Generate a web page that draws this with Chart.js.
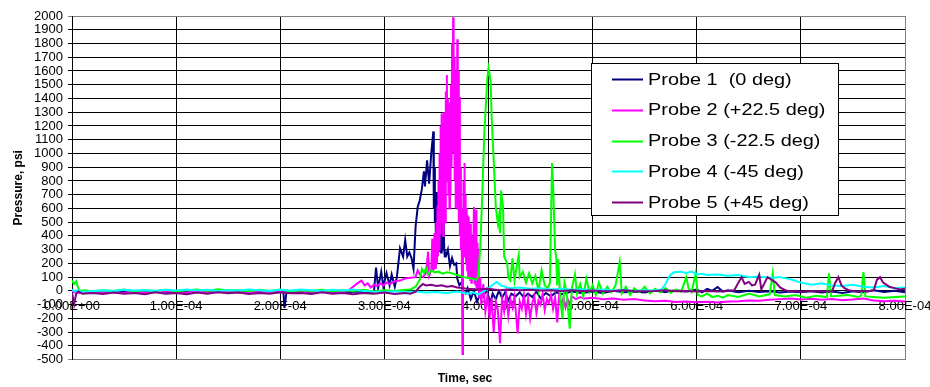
<!DOCTYPE html>
<html>
<head>
<meta charset="utf-8">
<script src="https://cdn.jsdelivr.net/npm/chart.js@4.4.1/dist/chart.umd.min.js"></script>
<style>
  html, body { margin: 0; padding: 0; background: #fff; }
  canvas { display: block; }
</style>
</head>
<body>
<canvas id="grafico" width="930" height="387"></canvas>
<script>
// time in microseconds, pressure in psi
const probe1 = [[0,0],[3,-10],[8,-5],[15,-8],[25,-3],[35,-10],[45,-5],[55,-12],[65,-4],[75,-8],[85,-2],[95,-10],[105,-6],[115,-12],[125,-3],[135,-8],[145,-5],[155,-10],[165,-4],[175,-9],[185,-3],[195,-7],[203,-5],[204,-125],[206,-10],[215,-5],[225,-8],[235,-3],[245,-10],[255,-5],[265,-8],[275,-4],[285,-10],[290,-5],[292,170],[294,20],[297,140],[299,30],[302,130],[305,40],[307,120],[310,30],[312,100],[315,310],[318,250],[320,370],[322,250],[324,280],[326,240],[328,160],[330,470],[332,610],[334,660],[336,740],[338,870],[339,760],[341,950],[343,780],[345,1000],[347,1160],[347.5,600],[348,900],[348.5,500],[349,700],[349.5,350],[350,720],[350.5,330],[351,700],[351.5,300],[352,650],[352.5,290],[353,620],[353.5,300],[354,600],[354.5,280],[355,580],[355.5,350],[356,550],[356.5,300],[357,500],[357.5,300],[358,250],[359,250],[361,300],[363,180],[365,240],[367,190],[369,200],[370,90],[372,40],[374,60],[376,-10],[378,-20],[380,20],[383,-60],[386,0],[389,-80],[392,-20],[395,-40],[398,10],[400,-40],[402,-90],[404,-20],[407,-60],[410,0],[413,-50],[416,-10],[419,-70],[422,-20],[426,-40],[430,-10],[434,-50],[438,-20],[442,-45],[446,-5],[450,-55],[455,-15],[460,-40],[465,-10],[470,-25],[480,-5],[490,-15],[500,-5],[510,-15],[520,0],[530,-10],[540,-5],[550,-12],[560,0],[570,-8],[580,5],[590,-5],[600,10],[605,-10],[610,15],[615,0],[620,28],[625,-5],[630,5],[640,-10],[650,0],[660,-8],[670,-3],[680,-12],[690,-5],[700,-10],[710,-2],[720,-12],[730,-5],[740,-15],[750,-3],[760,-10],[770,5],[780,-8],[790,0],[800,-10]];

const probe2 = [[0,-5],[5,-15],[12,-8],[20,-12],[30,-5],[40,-10],[50,-15],[60,-5],[70,-12],[80,-8],[90,-3],[100,-10],[110,-15],[120,-5],[130,-10],[140,-8],[150,-3],[160,-12],[170,-6],[180,-10],[190,-4],[200,-12],[210,-5],[220,-10],[230,-3],[240,-8],[250,-5],[260,-10],[265,0],[270,30],[275,60],[278,75],[281,40],[284,55],[287,25],[290,45],[293,35],[296,55],[299,40],[302,60],[305,50],[310,70],[315,75],[320,90],[325,95],[330,100],[332,150],[334,120],[337,100],[340,130],[342,285],[343,110],[345,150],[346,380],[346.5,140],[347,300],[347.5,150],[348,420],[348.5,180],[349,350],[349.5,160],[350,500],[350.5,200],[351,620],[351.5,250],[352,800],[352.5,300],[353,1000],[353.5,420],[354,1200],[354.5,500],[355,1290],[355.5,650],[356,1100],[356.5,400],[357,1300],[357.5,700],[358,1000],[358.5,500],[359,1450],[359.5,800],[360,1570],[360.5,900],[361,1400],[361.5,700],[362,1200],[362.5,600],[363,1370],[363.5,700],[364,1500],[364.5,900],[365,1800],[365.5,1000],[366,1990],[366.5,1100],[367,1700],[367.5,800],[368,1600],[368.5,600],[369,1500],[369.5,700],[370,1830],[370.5,590],[371,1600],[371.5,500],[372,1410],[372.5,400],[373,900],[373.5,300],[374,600],[374.5,100],[375,-460],[375.5,200],[376,800],[376.5,300],[377,930],[377.5,250],[378,700],[378.5,200],[379,600],[379.5,150],[380,550],[380.5,100],[381,540],[381.5,150],[382,450],[382.5,80],[383,490],[383.5,60],[384,400],[385,100],[386,610],[386.5,60],[387,500],[387.5,40],[388,590],[388.5,20],[389,350],[389.5,0],[390,300],[391,-50],[392,100],[393,-100],[395,50],[397,-150],[399,-30],[401,-200],[403,-50],[405,-300],[407,-80],[409,-140],[411,-380],[413,-60],[415,-150],[417,-20],[419,-180],[421,-60],[423,-120],[425,-40],[428,-310],[430,-80],[432,-130],[434,-30],[436,-170],[438,-60],[440,-200],[442,-90],[444,-40],[446,-160],[448,-70],[450,-100],[452,-20],[454,-140],[456,-60],[458,-90],[460,-30],[462,-130],[464,-50],[466,-230],[468,-20],[470,-110],[472,-50],[474,-120],[476,-60],[478,-100],[480,-40],[484,-60],[488,-45],[492,-55],[500,-50],[510,-60],[520,-55],[530,-65],[540,-60],[550,-70],[560,-75],[570,-72],[580,-80],[590,-78],[600,-82],[610,-80],[620,-85],[630,-78],[640,-75],[650,-70],[660,-72],[670,-65],[680,-60],[690,-55],[700,-62],[710,-58],[720,-65],[730,-60],[740,-68],[750,-62],[760,-55],[770,-70],[780,-75],[790,-72],[800,-78]];

const probe3 = [[0,75],[2,50],[4,70],[6,20],[8,0],[12,5],[20,-5],[30,5],[40,0],[50,10],[60,-3],[70,5],[80,0],[90,8],[100,-2],[110,5],[120,10],[130,0],[140,12],[150,2],[160,5],[170,-2],[180,8],[190,0],[200,10],[210,-5],[220,5],[230,0],[240,8],[250,-2],[260,5],[270,0],[280,8],[290,-5],[300,5],[310,0],[320,8],[325,10],[330,30],[334,80],[336,160],[338,130],[340,165],[342,120],[345,150],[348,135],[352,140],[356,125],[360,135],[364,130],[368,120],[372,110],[376,100],[380,95],[384,90],[388,80],[390,100],[392,300],[394,700],[396,1150],[397,1290],[399,1560],[400,1620],[402,1530],[403,1270],[405,950],[407,610],[409,490],[410,540],[411,420],[412,730],[414,610],[415,250],[418,200],[419,100],[421,76],[423,236],[425,76],[427,173],[429,260],[430,100],[433,137],[436,60],[439,128],[442,55],[445,110],[448,0],[451,150],[454,40],[457,20],[459,60],[461,930],[462,783],[464,295],[465,246],[466,40],[467,230],[469,-60],[471,-200],[473,60],[475,-10],[478,-275],[480,20],[483,120],[485,-20],[488,50],[491,-40],[494,90],[497,-10],[500,40],[503,-30],[506,60],[510,-20],[514,30],[518,-10],[522,40],[526,210],[528,-20],[532,30],[536,-30],[540,20],[545,-10],[550,30],[555,-20],[560,15],[565,-10],[570,20],[575,-15],[580,10],[585,-5],[590,100],[592,20],[595,-10],[599,128],[601,-30],[605,-40],[610,-20],[615,-45],[620,-35],[625,-50],[630,-30],[640,-45],[650,-20],[660,-40],[670,-25],[673,128],[675,-30],[685,-40],[695,-30],[705,-50],[715,-35],[725,-45],[727,128],[729,-40],[745,-30],[755,-45],[758,-35],[760,137],[762,-40],[780,-50],[790,-45],[800,-40]];

const probe4 = [[0,10],[3,-5],[6,5],[10,-8],[20,0],[30,5],[40,0],[50,8],[60,2],[70,6],[80,0],[90,8],[100,3],[110,10],[120,2],[130,8],[140,0],[150,6],[160,2],[170,10],[180,5],[190,0],[200,8],[210,2],[220,10],[230,5],[240,0],[250,8],[260,3],[270,10],[280,0],[290,-5],[300,-8],[310,-3],[320,-10],[330,-5],[340,-12],[350,-8],[360,-15],[370,-5],[380,-20],[385,-10],[390,-25],[395,-5],[400,20],[405,50],[408,64],[412,40],[416,30],[420,20],[430,25],[440,15],[450,20],[460,10],[470,15],[480,8],[490,12],[500,5],[510,10],[520,2],[530,8],[540,0],[550,5],[560,2],[566,10],[570,50],[574,110],[578,135],[584,140],[590,130],[595,140],[600,120],[605,125],[610,115],[620,120],[630,110],[640,115],[650,100],[660,105],[670,95],[680,100],[690,85],[700,60],[710,45],[720,55],[730,40],[740,35],[750,45],[760,30],[770,25],[780,35],[790,20],[800,25]];

const probe5 = [[0,-10],[2,-100],[4,-20],[6,-5],[10,-20],[20,-15],[30,-22],[40,-12],[50,-20],[60,-15],[70,-25],[80,-10],[90,-20],[100,-15],[110,-25],[120,-12],[130,-20],[140,-10],[150,-18],[160,-12],[170,-22],[180,-15],[190,-20],[200,-10],[210,-18],[220,-15],[230,-22],[240,-10],[250,-20],[260,-15],[270,-25],[280,-15],[290,-20],[300,-12],[310,-22],[320,-15],[325,-20],[330,-5],[334,30],[337,50],[340,40],[345,45],[350,35],[355,40],[360,30],[365,35],[370,25],[375,20],[380,15],[390,10],[400,15],[410,5],[420,10],[430,5],[440,8],[450,2],[460,5],[470,0],[480,5],[490,0],[500,3],[510,-2],[520,0],[530,5],[540,0],[550,-3],[560,0],[570,5],[580,-2],[590,0],[600,-5],[610,0],[620,-5],[630,0],[636,5],[640,60],[643,100],[646,50],[650,65],[653,40],[656,45],[660,117],[662,10],[668,100],[672,80],[676,60],[680,25],[685,5],[690,-5],[695,0],[700,-8],[710,0],[720,-5],[730,-2],[733,60],[736,100],[739,40],[742,20],[746,5],[750,0],[755,-5],[760,0],[765,-3],[770,5],[773,80],[776,100],[779,60],[782,45],[785,30],[790,20],[795,10],[800,15]];

const nomes = ["Probe 1  (0 deg)", "Probe 2 (+22.5 deg)", "Probe 3 (-22.5 deg)", "Probe 4 (-45 deg)", "Probe 5 (+45 deg)"];
const cores = ["#000080", "#ff00ff", "#00ff00", "#00ffff", "#800080"];
const series = [probe1, probe2, probe3, probe4, probe5];

const xMin = 0, xMax = 800, xStep = 100;
const yMin = -500, yMax = 2000, yStep = 100;

const fonte = "Arial, 'Liberation Sans', sans-serif";

function sci(v) {
    if (Math.abs(v) < 1e-9) return "0.00E+00";
    const s = (v * 1e-6).toExponential(2).toUpperCase();
    return s.replace(/E([+-])(\d+)$/, (m, sg, d) => "E" + sg + (d.length < 2 ? "0" + d : d));
}

// legenda desenhada dentro da area do grafico
const legendaBox = {
    id: "legendaBox",
    afterDraw(chart) {
        const ctx = chart.ctx;
        ctx.save();
        ctx.fillStyle = "#fff";
        ctx.fillRect(591, 63, 247, 152);
        ctx.strokeStyle = "#000";
        ctx.lineWidth = 1;
        ctx.strokeRect(591.5, 63.5, 247, 152);
        ctx.font = "17px " + fonte;
        ctx.textBaseline = "middle";
        chart.data.datasets.forEach((ds, i) => {
            const y = 79 + i * 30.75;
            ctx.strokeStyle = ds.borderColor;
            ctx.lineWidth = 2;
            ctx.beginPath();
            ctx.moveTo(612, Math.round(y) + 0.5);
            ctx.lineTo(643, Math.round(y) + 0.5);
            ctx.stroke();
            ctx.save();
            ctx.translate(648, y + 1);
            ctx.scale(1.17, 1);
            ctx.fillStyle = "#000";
            ctx.fillText(ds.label, 0, 0);
            ctx.restore();
        });
        ctx.restore();
    }
};

const ctx = document.getElementById("grafico").getContext("2d");
new Chart(ctx, {
    type: "line",
    data: {
        datasets: series.map((s, i) => ({
            label: nomes[i],
            data: s.map(p => ({ x: p[0], y: p[1] })),
            borderColor: cores[i],
            backgroundColor: cores[i],
            borderWidth: 2,
            pointRadius: 0,
            tension: 0,
            fill: false,
            order: series.length - i
        }))
    },
    options: {
        responsive: false,
        animation: false,
        devicePixelRatio: 1,
        layout: { padding: { top: 16, right: 0, bottom: 0, left: 0 } },
        scales: {
            x: {
                type: "linear",
                min: xMin, max: xMax,
                ticks: { display: false, stepSize: xStep },
                grid: {
                    color: c => (c.tick && c.tick.value === xMax) ? "#808080" : "#000",
                    drawTicks: false
                },
                border: { display: false },
                afterFit: s => { s.height = 11; }
            },
            x2: {
                type: "linear",
                axis: "x",
                position: { y: 0 },
                min: xMin, max: xMax,
                ticks: {
                    stepSize: xStep,
                    autoSkip: false,
                    maxRotation: 0,
                    padding: 8,
                    color: "#000",
                    font: { family: fonte, size: 13 },
                    callback: v => sci(v)
                },
                grid: { display: false, drawTicks: false },
                border: { display: false },
                afterFit: s => { s.paddingLeft = 0; s.paddingRight = 25; }
            },
            y: {
                type: "linear",
                min: yMin, max: yMax,
                ticks: {
                    stepSize: yStep,
                    autoSkip: false,
                    padding: 5,
                    color: "#000",
                    font: { family: fonte, size: 13 },
                    callback: v => String(v)
                },
                grid: {
                    color: c => (c.tick && (c.tick.value === yMax || c.tick.value === yMin)) ? "#808080" : "#000",
                    tickLength: 4
                },
                border: { color: "#000" },
                title: {
                    display: true,
                    text: "Pressure, psi",
                    color: "#000",
                    font: { family: fonte, size: 12, weight: "bold" },
                    padding: { top: 11, bottom: 0 }
                },
                afterFit: s => { s.width = 72; }
            }
        },
        plugins: {
            legend: { display: false },
            tooltip: { enabled: false },
            title: {
                display: true,
                position: "bottom",
                text: "Time, sec",
                color: "#000",
                font: { family: fonte, size: 12, weight: "bold" },
                padding: { top: 1, bottom: 1 }
            }
        }
    },
    plugins: [legendaBox]
});
</script>
</body>
</html>
